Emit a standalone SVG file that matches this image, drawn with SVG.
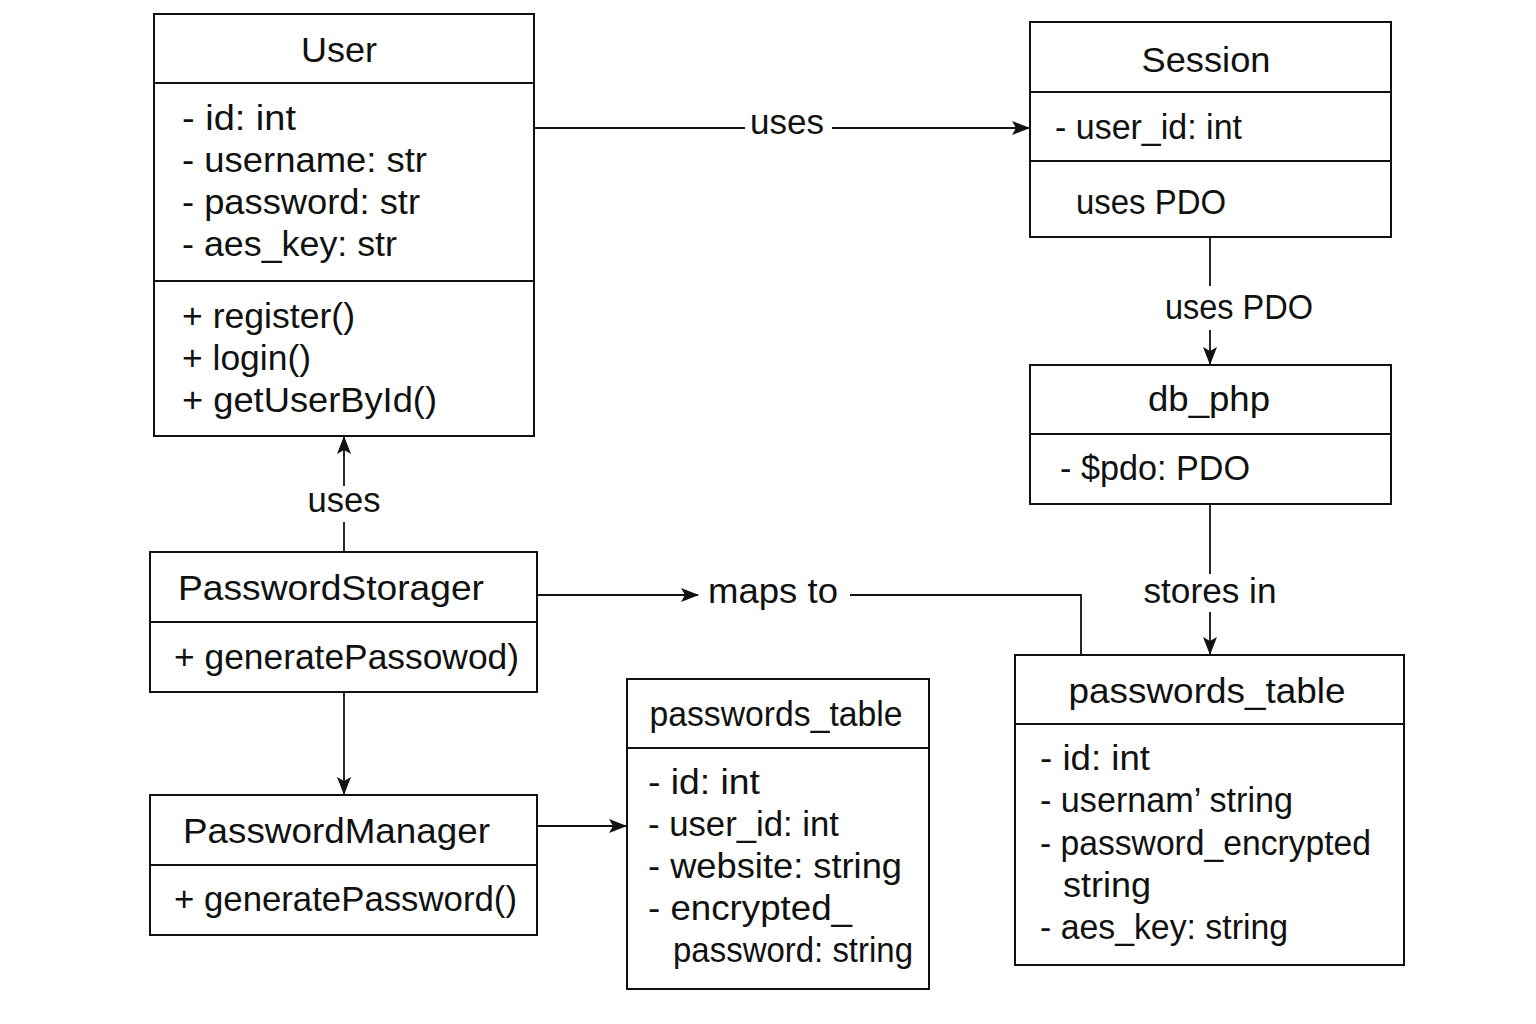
<svg xmlns="http://www.w3.org/2000/svg" width="1536" height="1024" viewBox="0 0 1536 1024">
<defs>
<style>
.box{fill:#fff;stroke:#111;stroke-width:2}
.div{stroke:#111;stroke-width:2}
.t{font-family:"Liberation Sans",Arial,sans-serif;font-size:35px;fill:#111}
.c{text-anchor:middle}
.conn{fill:none;stroke:#111;stroke-width:1.8}
</style>
<marker id="arr" viewBox="0 0 18 14" refX="17" refY="7" markerWidth="18" markerHeight="14" markerUnits="userSpaceOnUse" orient="auto">
<path d="M0,0 L18,7 L0,14 L4,7 Z" fill="#111"/>
</marker>
</defs>
<rect width="1536" height="1024" fill="#fff"/>

<g id="connectors">
<line class="conn" x1="534" y1="128" x2="745" y2="128"/>
<line class="conn" x1="832" y1="128" x2="1029" y2="128" marker-end="url(#arr)"/>
<text class="t c" x="787" y="134" textLength="74" lengthAdjust="spacingAndGlyphs">uses</text>

<line class="conn" x1="1210" y1="237" x2="1210" y2="286"/>
<line class="conn" x1="1210" y1="330" x2="1210" y2="364" marker-end="url(#arr)"/>
<text class="t c" x="1239" y="319" textLength="148" lengthAdjust="spacingAndGlyphs">uses PDO</text>

<line class="conn" x1="344" y1="552" x2="344" y2="522"/>
<line class="conn" x1="344" y1="486" x2="344" y2="437" marker-end="url(#arr)"/>
<text class="t c" x="344" y="512" textLength="73" lengthAdjust="spacingAndGlyphs">uses</text>

<line class="conn" x1="537" y1="595" x2="698" y2="595" marker-end="url(#arr)"/>
<text class="t" x="708" y="603" textLength="130" lengthAdjust="spacingAndGlyphs">maps to</text>
<polyline class="conn" points="850,595 1081,595 1081,655"/>

<line class="conn" x1="1210" y1="504" x2="1210" y2="574"/>
<line class="conn" x1="1210" y1="612" x2="1210" y2="654" marker-end="url(#arr)"/>
<text class="t c" x="1210" y="603" textLength="133" lengthAdjust="spacingAndGlyphs">stores in</text>

<line class="conn" x1="344" y1="692" x2="344" y2="794" marker-end="url(#arr)"/>
<line class="conn" x1="537" y1="826" x2="626" y2="826" marker-end="url(#arr)"/>
</g>

<g id="user">
<rect class="box" x="154" y="14" width="380" height="422"/>
<line class="div" x1="154" y1="83" x2="534" y2="83"/>
<line class="div" x1="154" y1="281" x2="534" y2="281"/>
<text class="t c" x="339" y="62" textLength="76" lengthAdjust="spacingAndGlyphs">User</text>
<text class="t" x="182" y="130" textLength="114" lengthAdjust="spacingAndGlyphs">- id: int</text>
<text class="t" x="182" y="172" textLength="245" lengthAdjust="spacingAndGlyphs">- username: str</text>
<text class="t" x="182" y="214" textLength="238" lengthAdjust="spacingAndGlyphs">- password: str</text>
<text class="t" x="182" y="256" textLength="215" lengthAdjust="spacingAndGlyphs">- aes_key: str</text>
<text class="t" x="182" y="328" textLength="173" lengthAdjust="spacingAndGlyphs">+ register()</text>
<text class="t" x="182" y="370" textLength="129" lengthAdjust="spacingAndGlyphs">+ login()</text>
<text class="t" x="182" y="412" textLength="255" lengthAdjust="spacingAndGlyphs">+ getUserById()</text>
</g>

<g id="session">
<rect class="box" x="1030" y="22" width="361" height="215"/>
<line class="div" x1="1030" y1="92" x2="1391" y2="92"/>
<line class="div" x1="1030" y1="161" x2="1391" y2="161"/>
<text class="t c" x="1206" y="72" textLength="129" lengthAdjust="spacingAndGlyphs">Session</text>
<text class="t" x="1055" y="139" textLength="187" lengthAdjust="spacingAndGlyphs">- user_id: int</text>
<text class="t" x="1076" y="214" textLength="150" lengthAdjust="spacingAndGlyphs">uses PDO</text>
</g>

<g id="db_php">
<rect class="box" x="1030" y="365" width="361" height="139"/>
<line class="div" x1="1030" y1="434" x2="1391" y2="434"/>
<text class="t c" x="1209" y="411" textLength="122" lengthAdjust="spacingAndGlyphs">db_php</text>
<text class="t" x="1060" y="480" textLength="190" lengthAdjust="spacingAndGlyphs">- $pdo: PDO</text>
</g>

<g id="password_storager">
<rect class="box" x="150" y="552" width="387" height="140"/>
<line class="div" x1="150" y1="622" x2="537" y2="622"/>
<text class="t" x="178" y="600" textLength="306" lengthAdjust="spacingAndGlyphs">PasswordStorager</text>
<text class="t" x="174" y="669" textLength="345" lengthAdjust="spacingAndGlyphs">+ generatePassowod)</text>
</g>

<g id="password_manager">
<rect class="box" x="150" y="795" width="387" height="140"/>
<line class="div" x1="150" y1="865" x2="537" y2="865"/>
<text class="t" x="183" y="843" textLength="307" lengthAdjust="spacingAndGlyphs">PasswordManager</text>
<text class="t" x="174" y="911" textLength="343" lengthAdjust="spacingAndGlyphs">+ generatePassword()</text>
</g>

<g id="passwords_table_mid">
<rect class="box" x="627" y="679" width="302" height="310"/>
<line class="div" x1="627" y1="748" x2="929" y2="748"/>
<text class="t c" x="776" y="726" textLength="253" lengthAdjust="spacingAndGlyphs">passwords_table</text>
<text class="t" x="648" y="794" textLength="112" lengthAdjust="spacingAndGlyphs">- id: int</text>
<text class="t" x="648" y="836" textLength="191" lengthAdjust="spacingAndGlyphs">- user_id: int</text>
<text class="t" x="648" y="878" textLength="254" lengthAdjust="spacingAndGlyphs">- website: string</text>
<text class="t" x="648" y="920" textLength="204" lengthAdjust="spacingAndGlyphs">- encrypted_</text>
<text class="t" x="673" y="962" textLength="240" lengthAdjust="spacingAndGlyphs">password: string</text>
</g>

<g id="passwords_table_right">
<rect class="box" x="1015" y="655" width="389" height="310"/>
<line class="div" x1="1015" y1="724" x2="1404" y2="724"/>
<text class="t c" x="1207" y="703" textLength="277" lengthAdjust="spacingAndGlyphs">passwords_table</text>
<text class="t" x="1040" y="770" textLength="110" lengthAdjust="spacingAndGlyphs">- id: int</text>
<text class="t" x="1040" y="812" textLength="253" lengthAdjust="spacingAndGlyphs">- usernam’ string</text>
<text class="t" x="1040" y="855" textLength="331" lengthAdjust="spacingAndGlyphs">- password_encrypted</text>
<text class="t" x="1063" y="897" textLength="88" lengthAdjust="spacingAndGlyphs">string</text>
<text class="t" x="1040" y="939" textLength="248" lengthAdjust="spacingAndGlyphs">- aes_key: string</text>
</g>
</svg>
